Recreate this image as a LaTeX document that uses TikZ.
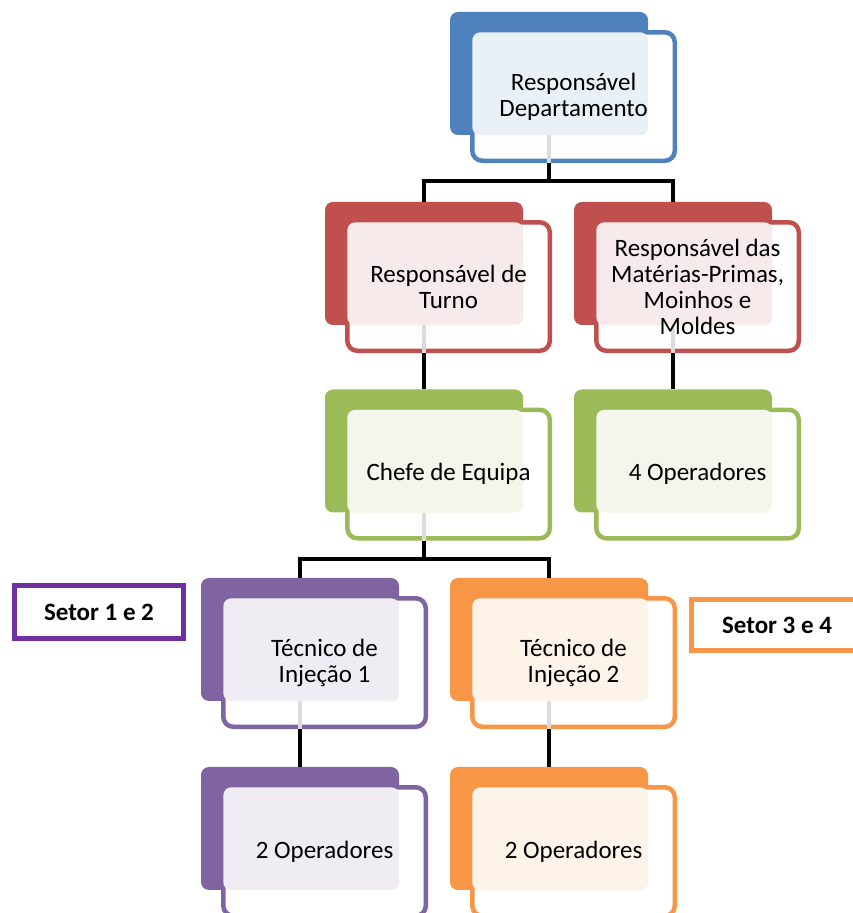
\documentclass[tikz,border=0pt]{standalone}
\usepackage{fontspec}
\setmainfont{Carlito}
\usepackage{tikz}

\definecolor{depblue}{HTML}{4F81BD}
\definecolor{turnred}{HTML}{C0504D}
\definecolor{teamgreen}{HTML}{9BBB59}
\definecolor{injpurple}{HTML}{8064A2}
\definecolor{injorange}{HTML}{F79646}
\definecolor{setorpurple}{HTML}{7030A0}
\definecolor{stubgray}{HTML}{DCDCDC}

\tikzset{
  backbox/.style={rectangle, rounded corners=8pt, fill=#1, inner sep=0pt,
    minimum width=198pt, minimum height=123pt},
  frontbox/.style={rectangle, rounded corners=10pt, draw=#1, line width=4.5pt,
    fill=white, inner sep=0pt, anchor=north west,
    minimum width=202.5pt, minimum height=128.5pt},
  boxtext/.style={align=center, inner sep=0pt, font=\fontsize{25}{26}\selectfont},
  setor/.style={rectangle, draw=#1, line width=5pt, fill=white, inner sep=0pt,
    minimum width=169pt, minimum height=53pt, font=\fontsize{25}{26}\selectfont\bfseries},
  link/.style={line width=4pt, black},
  stub/.style={line width=4pt, stubgray}
}

\begin{document}
\begin{tikzpicture}[x=1pt, y=1pt]
    \useasboundingbox (0,0) rectangle (853,913);
    \clip (0,0) rectangle (853,913);

    % boxes: back card, front card, tint
    \foreach \nm/\cx/\cy/\col in {dep/549/839.5/depblue,
        turno/424/649.5/turnred, mat/673/649.5/turnred,
        chefe/424/462/teamgreen, oper/673/462/teamgreen,
        tec1/300/273.5/injpurple, tec2/549/273.5/injorange,
        opa/300/84.5/injpurple, opb/549/84.5/injorange}{
      \node[backbox=\col] (\nm-b) at (\cx,\cy) {};
      \node[frontbox=\col] (\nm) at ([shift={(20.25,-18.25)}]\nm-b.north west) {};
      \fill[\col!12, rounded corners=8pt] ([shift={(2.25,-2.25)}]\nm.north west)
          rectangle (\nm-b.south east);
    }

    \foreach \nm in {dep,turno,mat,chefe,tec1,tec2}
      \draw[stub] (\nm-b.south) -- (\nm-b.south |- \nm.south);

    \node[boxtext] (dep-t) at (dep) {Responsável\\Departamento};
    \node[boxtext] (turno-t) at (turno) {Responsável de\\Turno};
    \node[boxtext] (mat-t) at (mat) {Responsável das\\Matérias-Primas,\\Moinhos e\\Moldes};
    \node[boxtext] (chefe-t) at (chefe) {Chefe de Equipa};
    \node[boxtext] (oper-t) at (oper) {4 Operadores};
    \node[boxtext] (tec1-t) at (tec1) {Técnico de\\Injeção 1};
    \node[boxtext] (tec2-t) at (tec2) {Técnico de\\Injeção 2};
    \node[boxtext] (opa-t) at (opa) {2 Operadores};
    \node[boxtext] (opb-t) at (opb) {2 Operadores};

    % connectors
    \draw[link] (dep-b.south |- dep.south) -- ++(0,-18) coordinate (dep-j) -| (turno-b.north);
    \draw[link] (dep-j) -| (mat-b.north);
    \draw[link] (turno-b.south |- turno.south) -- (chefe-b.north);
    \draw[link] (mat-b.south |- mat.south) -- (oper-b.north);
    \draw[link] (chefe-b.south |- chefe.south) -- ++(0,-18) coordinate (chefe-j) -| (tec1-b.north);
    \draw[link] (chefe-j) -| (tec2-b.north);
    \draw[link] (tec1-b.south |- tec1.south) -- (opa-b.north);
    \draw[link] (tec2-b.south |- tec2.south) -- (opb-b.north);

    \node[setor=setorpurple] (setor12) at (99,301) {Setor 1 e 2};
    \node[setor=injorange, minimum width=171pt, minimum height=51pt] (setor34) at (777,288) {Setor 3 e 4};

\end{tikzpicture}
\end{document}
